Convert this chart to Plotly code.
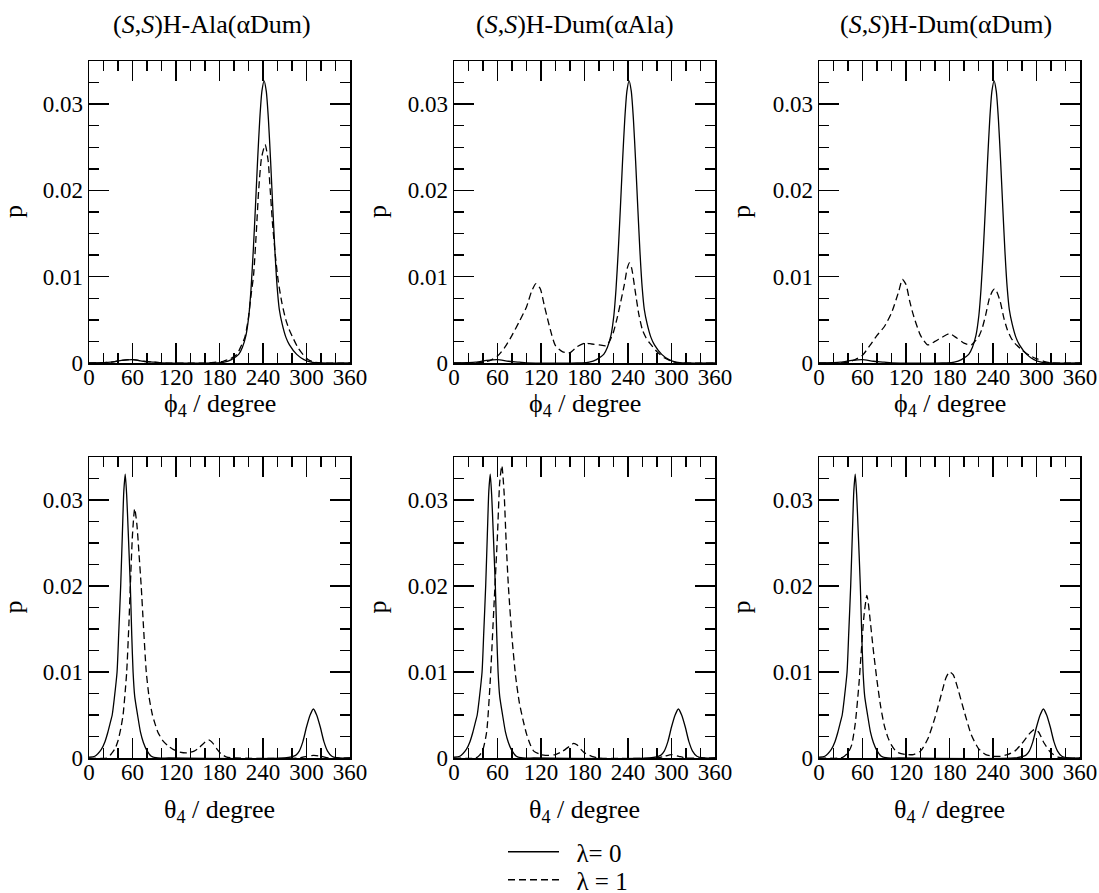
import plotly.graph_objects as go

# ---------------- data ----------------
panel_titles = ["(<i>S</i>,<i>S</i>)H-Ala(αDum)", "(<i>S</i>,<i>S</i>)H-Dum(αAla)", "(<i>S</i>,<i>S</i>)H-Dum(αDum)"]
x_tick_vals = [0, 60, 120, 180, 240, 300, 360]
y_tick_vals = [0, 0.01, 0.02, 0.03]
y_tick_text = ["0", "0.01", "0.02", "0.03"]
legend_names = ["λ= 0", "λ = 1"]

# phi4, lambda = 0 (same in all three top panels)
phi_l0_x = [0, 30, 45, 60, 75, 90, 100, 170, 176.5, 186.5, 196.5, 206.5, 211.5, 216.5, 220.5, 223.5, 226.5,
            229.5, 232.5, 235.5, 238.5, 241.5, 244.5, 247.5, 250.5, 253.5, 256.5, 259.5, 262.5, 266.5, 271.5,
            276.5, 286.5, 296.5, 306.5, 320, 360]
phi_l0_y = [0, 0.0001, 0.0003, 0.0004, 0.0002, 0.0001, 0, 0, 0, 0.0001, 0.0004, 0.001, 0.0018, 0.0032, 0.0055,
            0.0086, 0.0129, 0.018, 0.0234, 0.0282, 0.0315, 0.0327, 0.0315, 0.0282, 0.0234, 0.018, 0.0129, 0.0088,
            0.0062, 0.0045, 0.003, 0.0021, 0.001, 0.0004, 0.0001, 0, 0]

# phi4, lambda = 1, H-Ala(aDum)
phi_a_l1_x = [0, 30, 45, 60, 75, 90, 100, 165, 175, 185, 195, 204, 210, 215, 219.5, 223, 227, 231, 234, 238,
              243, 247, 250, 253, 257, 261, 266, 271.5, 276, 282, 288, 295, 302, 310, 320, 360]
phi_a_l1_y = [0, 0.0001, 0.0003, 0.0004, 0.0002, 0.0001, 0, 0, 0.0001, 0.0002, 0.0005, 0.001, 0.002, 0.003,
              0.005, 0.0075, 0.0102, 0.0155, 0.02, 0.0238, 0.0253, 0.0235, 0.02, 0.0163, 0.0125, 0.0095, 0.007,
              0.005, 0.0039, 0.0028, 0.0018, 0.001, 0.0004, 0.0001, 0, 0]

# phi4, lambda = 1, H-Dum(aAla)
phi_b_l1_x = [0, 30, 40, 50, 60, 70, 80, 90, 100, 107, 113, 119, 125, 130, 135, 140, 150, 160, 170, 180, 190,
              200, 210, 215, 220, 225, 230, 235, 239, 242, 245, 250, 255, 260, 265, 270, 280, 290, 300, 310, 360]
phi_b_l1_y = [0, 0, 0.0001, 0.0003, 0.0008, 0.0018, 0.0032, 0.0048, 0.0065, 0.0083, 0.0092, 0.0086, 0.0065,
              0.0048, 0.0032, 0.002, 0.0013, 0.0012, 0.0019, 0.0023, 0.0022, 0.0021, 0.002, 0.0026, 0.0036,
              0.0052, 0.0071, 0.0091, 0.011, 0.0116, 0.011, 0.0083, 0.0056, 0.0038, 0.0029, 0.0023, 0.0013,
              0.0006, 0.0002, 0, 0]

# phi4, lambda = 1, H-Dum(aDum)
phi_c_l1_x = [0, 30, 40, 50, 60, 70, 80, 90, 100, 110, 115, 120, 125, 130, 140, 150, 160, 170, 180, 190, 200,
              210, 215, 220, 225, 230, 235, 239, 242, 245, 250, 255, 260, 265, 270, 280, 290, 300, 310, 320, 360]
phi_c_l1_y = [0, 0, 0.0001, 0.0004, 0.0009, 0.002, 0.0032, 0.0042, 0.0058, 0.0083, 0.0097, 0.0091, 0.0072,
              0.0056, 0.0032, 0.0021, 0.0025, 0.003, 0.0034, 0.0029, 0.0023, 0.0021, 0.0025, 0.003, 0.004,
              0.0056, 0.0075, 0.0083, 0.0086, 0.0083, 0.0071, 0.0052, 0.0038, 0.0029, 0.0023, 0.0015, 0.0009,
              0.0005, 0.0002, 0, 0]

# theta4, lambda = 0 (same in all three bottom panels)
theta_l0_x = [0, 8, 17, 22, 26, 29, 32, 35, 38.7, 41, 43.7, 46, 48, 50, 52, 54, 57, 59, 60.8, 63, 67, 71, 75,
              79, 86, 95, 110, 270, 285, 290, 295, 300, 305, 309.5, 314, 319, 324, 329, 335, 345, 360]
theta_l0_y = [0.0001, 0.0002, 0.001, 0.0019, 0.003, 0.004, 0.005, 0.007, 0.01, 0.0145, 0.02, 0.026, 0.031,
              0.033, 0.0305, 0.0265, 0.02, 0.0142, 0.01, 0.0072, 0.005, 0.003, 0.0018, 0.001, 0.0002, 0, 0, 0,
              0.0003, 0.0008, 0.0019, 0.0036, 0.005, 0.0057, 0.005, 0.0036, 0.0019, 0.0008, 0.0002, 0, 0]

# theta4, lambda = 1, H-Ala(aDum)
theta_a_l1_x = [0, 25, 31, 36, 40, 44, 47, 50, 52, 55, 57, 60, 63, 66, 69, 72, 75, 79, 83, 87.5, 91, 95, 102,
                109, 116, 125, 135, 145, 152, 158, 165, 171, 176, 182, 190, 200, 290, 300, 310, 320, 330, 360]
theta_a_l1_y = [0, 0, 0.0005, 0.0011, 0.002, 0.0035, 0.005, 0.0078, 0.01, 0.0155, 0.02, 0.026, 0.029, 0.0272,
                0.0237, 0.02, 0.0155, 0.01, 0.007, 0.005, 0.004, 0.003, 0.002, 0.0014, 0.001, 0.0007, 0.0006,
                0.0008, 0.0012, 0.0017, 0.0021, 0.0017, 0.0011, 0.0005, 0.0001, 0, 0, 0.0002, 0.0003, 0.0002,
                0, 0]

# theta4, lambda = 1, H-Dum(aAla)
theta_b_l1_x = [0, 30, 35, 40, 45, 50, 55, 60, 63, 66, 69, 72, 75, 80, 85, 90, 95, 100, 105, 110, 120, 130,
                140, 150, 160, 165, 170, 175, 180, 190, 200, 280, 290, 300, 310, 320, 360]
theta_b_l1_y = [0, 0, 0.0003, 0.001, 0.003, 0.009, 0.0175, 0.026, 0.032, 0.034, 0.031, 0.025, 0.02, 0.014,
                0.0095, 0.0065, 0.0045, 0.0028, 0.0016, 0.0008, 0.0004, 0.0003, 0.0004, 0.0008, 0.0014, 0.0017,
                0.0015, 0.001, 0.0006, 0.0002, 0, 0, 0.0002, 0.0004, 0.0002, 0, 0]

# theta4, lambda = 1, H-Dum(aDum)
theta_c_l1_x = [0, 30, 35, 40, 45, 50, 55, 58, 62, 66, 68, 70, 75, 80, 85, 90, 95, 100, 105, 110, 120, 130,
                140, 150, 160, 170, 175, 180, 185, 190, 200, 210, 220, 230, 240, 250, 260, 270, 280, 290, 297,
                303, 310, 320, 330, 340, 360]
theta_c_l1_y = [0, 0, 0.0002, 0.0006, 0.0015, 0.004, 0.0085, 0.012, 0.0165, 0.0189, 0.018, 0.0165, 0.0125,
                0.009, 0.006, 0.0038, 0.0024, 0.0015, 0.0009, 0.0006, 0.0004, 0.0004, 0.0008, 0.0022, 0.0047,
                0.0078, 0.0093, 0.01, 0.0097, 0.0085, 0.0055, 0.0027, 0.0011, 0.0004, 0.0002, 0.0002, 0.0004,
                0.0008, 0.0017, 0.0028, 0.0033, 0.003, 0.0018, 0.0006, 0.0001, 0, 0]

panels = [
    (phi_l0_x, phi_l0_y, phi_a_l1_x, phi_a_l1_y),
    (phi_l0_x, phi_l0_y, phi_b_l1_x, phi_b_l1_y),
    (phi_l0_x, phi_l0_y, phi_c_l1_x, phi_c_l1_y),
    (theta_l0_x, theta_l0_y, theta_a_l1_x, theta_a_l1_y),
    (theta_l0_x, theta_l0_y, theta_b_l1_x, theta_b_l1_y),
    (theta_l0_x, theta_l0_y, theta_c_l1_x, theta_c_l1_y),
]

# ---------------- layout geometry (pixels) ----------------
W, H = 1099, 893
FONT = "Liberation Serif, Times New Roman, Times, serif"
col_px = [(89, 350), (454, 715), (819, 1080)]
row_px = [(61, 363), (457, 758)]
xtitle_top = [387, 793]


def px(x):
    return x / W


def py(y):
    return 1 - y / H


fig = go.Figure()

axis_common = dict(
    ticks="inside", ticklen=20, tickwidth=1.5, tickcolor="black",
    showline=True, linecolor="black", linewidth=1.5, mirror="allticks",
    showgrid=False, zeroline=False, automargin=False,
    tickfont=dict(family=FONT, size=23, color="black"),
)

for i, (xs, ys, xd, yd) in enumerate(panels):
    r, c = divmod(i, 3)
    n = i + 1
    xa = "x" if n == 1 else f"x{n}"
    ya = "y" if n == 1 else f"y{n}"
    fig.add_trace(go.Scatter(x=xs, y=ys, mode="lines", xaxis=xa, yaxis=ya,
                             line=dict(color="black", width=1.3, shape="spline", smoothing=0.6),
                             name="\u00a0\u00a0" + legend_names[0], showlegend=(n == 1), legend="legend",
                             hoverinfo="skip"))
    fig.add_trace(go.Scatter(x=xd, y=yd, mode="lines", xaxis=xa, yaxis=ya,
                             line=dict(color="black", width=1.3, dash="7px,4px", shape="spline", smoothing=0.6),
                             name="\u00a0\u00a0" + legend_names[1], showlegend=(n == 1), legend="legend2",
                             hoverinfo="skip"))
    x0, x1 = col_px[c]
    y0, y1 = row_px[r]
    xkey = "xaxis" if n == 1 else f"xaxis{n}"
    ykey = "yaxis" if n == 1 else f"yaxis{n}"
    fig.layout[xkey] = dict(
        axis_common, domain=[px(x0), px(x1)], anchor=ya, range=[0, 360],
        tickmode="array", tickvals=x_tick_vals, ticklabelstandoff=-7,
        minor=dict(dtick=20, tick0=0, ticks="inside", ticklen=10, tickwidth=1.5, tickcolor="black", showgrid=False),
    )
    fig.layout[ykey] = dict(
        axis_common, domain=[py(y1), py(y0)], anchor=xa, range=[0, 0.035],
        tickmode="array", tickvals=y_tick_vals, ticktext=y_tick_text,
        minor=dict(dtick=0.0025, tick0=0, ticks="inside", ticklen=10, tickwidth=1.5, tickcolor="black", showgrid=False),
    )

annotations = []
title_cx = [212, 575, 946]
for c in range(3):
    annotations.append(dict(text=panel_titles[c], x=px(title_cx[c]), y=py(24), xref="paper", yref="paper",
                            showarrow=False, xanchor="center", yanchor="middle",
                            font=dict(family=FONT, size=26, color="black")))
p_cx = [13, 377, 741]
for r in range(2):
    for c in range(3):
        y0, y1 = row_px[r]
        annotations.append(dict(text="p", x=px(p_cx[c]), y=py((y0 + y1) / 2), xref="paper", yref="paper",
                                showarrow=False, xanchor="center", yanchor="middle", textangle=-90,
                                font=dict(family=FONT, size=26, color="black")))
        x0, x1 = col_px[c]
        label = "ϕ<sub>4</sub> / degree" if r == 0 else "θ<sub>4</sub> / degree"
        annotations.append(dict(text=label, x=px((x0 + x1) / 2), y=py(xtitle_top[r]), xref="paper", yref="paper",
                                showarrow=False, xanchor="center", yanchor="top",
                                font=dict(family=FONT, size=26, color="black")))

legend_common = dict(xanchor="left", yanchor="top", bgcolor="rgba(0,0,0,0)", itemwidth=51,
                     font=dict(family=FONT, size=25, color="black"))
fig.update_layout(
    width=W, height=H,
    margin=dict(l=0, r=0, t=0, b=0, autoexpand=False),
    paper_bgcolor="white", plot_bgcolor="white",
    annotations=annotations,
    showlegend=True,
    hovermode=False,
    legend=dict(legend_common, x=px(503), y=py(829)),
    legend2=dict(legend_common, x=px(503), y=py(857)),
)

fig.write_html(
    "out.html",
    config={"displayModeBar": False, "staticPlot": True},
    post_script="document.body.style.margin='0';document.body.style.overflow='hidden';"
                "document.documentElement.style.overflow='hidden';",
)
